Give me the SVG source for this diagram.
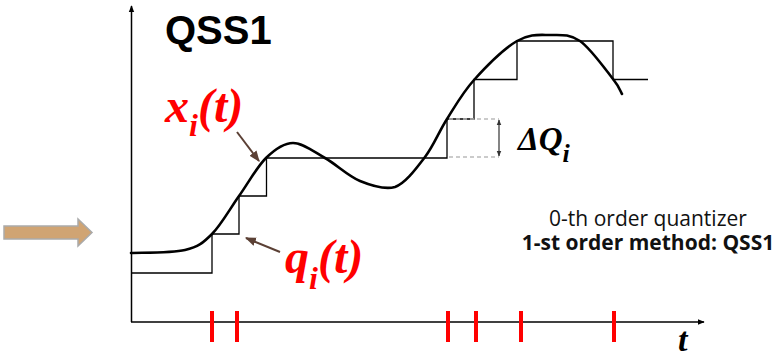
<svg xmlns="http://www.w3.org/2000/svg" width="775" height="357" viewBox="0 0 775 357">
<style>
.axis{stroke:#000;stroke-width:1.5;fill:none}
.stair{stroke:#000;stroke-width:1.3;fill:none}
.curve{stroke:#000;stroke-width:2.6;fill:none;stroke-linecap:round}
.tick{stroke:#ff0000;stroke-width:4}
.lbl{font-family:"Liberation Serif",serif;font-weight:bold;font-style:italic;fill:#ff0000}
.blk{font-family:"Liberation Serif",serif;font-weight:bold;font-style:italic;fill:#000}
.ptr{stroke:#5b4035;stroke-width:2;fill:none}
.dash{stroke:#bbb;stroke-width:1.3;stroke-dasharray:4 3;fill:none}
.note{font-family:"Open Sans",sans-serif;font-size:21px;fill:#111}
</style>
<defs>
<marker id="ah" viewBox="0 0 10 10" refX="9" refY="5" markerWidth="7" markerHeight="7" orient="auto-start-reverse" markerUnits="userSpaceOnUse"><path d="M0,1 L10,5 L0,9 z" fill="#000"/></marker>
<marker id="bh" viewBox="0 0 10 10" refX="9" refY="5" markerWidth="11" markerHeight="11" orient="auto" markerUnits="userSpaceOnUse"><path d="M0,1 L10,5 L0,9 z" fill="#5b4035"/></marker>
<marker id="dh" viewBox="0 0 10 10" refX="9" refY="5" markerWidth="6" markerHeight="6" orient="auto-start-reverse" markerUnits="userSpaceOnUse"><path d="M0,1 L10,5 L0,9 z" fill="#333"/></marker>
</defs>

<g id="input-arrow">
<path d="M4,226 L78,226 L78,219 L92,232.5 L78,246 L78,239 L4,239 z" fill="#d0a473" stroke="#aaa" stroke-width="1.5"/>
</g>

<g id="axes">
<line class="axis" x1="131.5" y1="322" x2="131.5" y2="6" marker-end="url(#ah)"/>
<line class="axis" x1="131" y1="322" x2="704" y2="322" marker-end="url(#ah)"/>
<text class="blk" x="678" y="351" font-size="34">t</text>
</g>

<g id="title">
<text x="165" y="44" font-family="Liberation Sans,Arial,sans-serif" font-weight="bold" font-size="40" fill="#000">QSS1</text>
</g>

<g id="quantized">
<path class="stair" d="M131,273 H212 V234 H239 V196 H266.5 V158 H447 V119 H474 V79.5 H517 V41 H613 V79.5 H648"/>
</g>

<g id="state">
<path class="curve" d="M131,253 C140,252.5 171.5,253.2 185,250 C198.5,246.8 203,243 212,234 C221,225 230,208.7 239,196 C248,183.3 257,166.8 266,158 C275,149.2 283.2,143 293,143 C302.8,143 313.8,151.7 325,158 C336.2,164.3 348.3,176.2 360,181 C371.7,185.8 384.2,190 395,187 C405.8,183 416.3,168.3 425,157 C433.7,145.7 438.8,131.8 447,119 C455.2,106.2 462.3,93 474,80 C485.7,67 504.3,48.5 517,41 C529.7,33.5 539.5,35 550,35 C560.5,35 569.5,33.7 580,41 C590.5,48.3 606,70.2 613,79 C620,87.8 620.5,91.5 622,94"/>
</g>

<g id="deltaQ">
<path class="dash" d="M449,119 H499 M449,157 H499"/>
<line x1="499" y1="120" x2="499" y2="156" stroke="#333" stroke-width="1.2" marker-start="url(#dh)" marker-end="url(#dh)"/>
<text class="blk" x="518" y="150" font-size="33">ΔQ<tspan font-size="26" dy="12">i</tspan></text>
</g>

<g id="x-label">
<text class="lbl" x="165" y="122" font-size="48">x<tspan font-size="32" dy="14">i</tspan><tspan dy="-14">(t)</tspan></text>
<line class="ptr" x1="237" y1="132" x2="259" y2="161" marker-end="url(#bh)"/>
</g>

<g id="q-label">
<text class="lbl" x="285" y="273" font-size="48">q<tspan font-size="32" dy="16">i</tspan><tspan dy="-16">(t)</tspan></text>
<line class="ptr" x1="280" y1="252" x2="246" y2="238" marker-end="url(#bh)"/>
</g>

<g id="events">
<line class="tick" x1="212" y1="311" x2="212" y2="342"/>
<line class="tick" x1="237" y1="311" x2="237" y2="342"/>
<line class="tick" x1="448" y1="311" x2="448" y2="342"/>
<line class="tick" x1="476" y1="311" x2="476" y2="342"/>
<line class="tick" x1="521" y1="311" x2="521" y2="342"/>
<line class="tick" x1="614" y1="311" x2="614" y2="342"/>
</g>

<g id="note">
<text class="note" x="648" y="226" text-anchor="middle">0-th order quantizer</text>
<text class="note" x="648" y="250" text-anchor="middle" font-weight="bold">1-st order method: QSS1</text>
</g>
</svg>
